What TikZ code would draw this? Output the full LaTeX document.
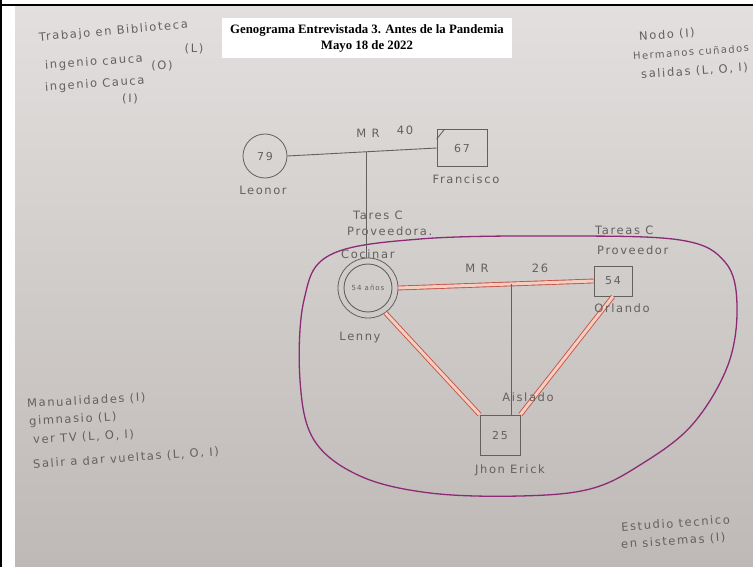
\documentclass[tikz,border=0pt]{standalone}
\usepackage{fontspec}
\setmainfont{Liberation Serif}
\newfontfamily\handfont[LetterSpace=14]{DejaVu Sans}
\usetikzlibrary{calc}
\definecolor{papertop}{RGB}{226,223,222}
\definecolor{paperbot}{RGB}{190,185,182}
\definecolor{pencil}{RGB}{100,96,96}
\definecolor{mrred}{RGB}{196,84,74}
\definecolor{mrpink}{RGB}{246,206,192}
\definecolor{ring}{RGB}{140,42,118}
\begin{document}
\begin{tikzpicture}[x=1pt,y=-1pt,
    hand/.style={text=pencil, font=\handfont\fontsize{11.5}{13}\selectfont, inner sep=1pt},
    person/.style={draw=pencil, line width=0.8pt, text=pencil, font=\handfont\fontsize{11}{12}\selectfont},
    pline/.style={draw=pencil, line width=0.9pt},
    mrband/.style={draw=mrred, line width=0.9pt, double=mrpink, double distance=3pt}]
  \useasboundingbox (0,0) rectangle (753,567);
  \fill[white] (0,0) rectangle (753,567);
  \shade[top color=papertop, bottom color=paperbot] (15,6) rectangle (753,567);
  \fill[black] (0,0) rectangle (2,567);
  \fill[black] (0,4) rectangle (753,6);
  \node[fill=white, inner sep=0pt, minimum width=290, minimum height=40, align=center,
        font=\bfseries\fontsize{12.8}{16}\selectfont] (title) at (367,38)
        {Genograma Entrevistada 3. Antes de la Pandemia\\Mayo 18 de 2022};
  % hogar actual
  \draw[ring, line width=1.3pt] plot[smooth cycle, tension=0.6] coordinates {
    (304,300) (330,255) (420,239) (560,236) (680,240) (725,262) (737,305) (728,365)
    (692,425) (640,465) (590,489) (520,496) (430,493) (360,476) (314,440) (300,380)};
  % personas
  \node[person, circle, minimum size=44] (leonor) at (265,156) {79};
  \node[person, minimum width=50, minimum height=37] (francisco) at (462,148) {67};
  \draw[pline] ($(francisco.north west)+(0,10)$) -- ++(8,-10);
  \node[person, circle, minimum size=60,
        font=\handfont\fontsize{7}{8}\selectfont] (carmen) at (368,288) {54 años};
  \draw[pline] (carmen.center) circle (24);
  \node[person, minimum width=38, minimum height=30] (orlando) at (613,281) {54};
  \node[person, minimum size=40] (jhon) at (500,435) {25};
  % uniones
  \draw[pline] (leonor.east) -- coordinate[pos=0.53] (hijos1) (francisco.west);
  \draw[pline] (hijos1) -- (hijos1 |- carmen.north);
  \draw[mrband] (carmen.east) -- coordinate[pos=0.58] (hijos2) (orlando.west);
  \draw[pline] (hijos2) -- (hijos2 |- jhon.north);
  \draw[mrband] (carmen.-55) -- (jhon.north west);
  \draw[mrband] (orlando.south) -- (jhon.north east);
  % rotulos
  \node[hand] (mr1) at (368,133) {M R};
  \node[hand] (anios1) at (405,130) {40};
  \node[hand] (nleonor) at (263,190) {Leonor};
  \node[hand] (nfrancisco) at (466,179) {Francisco};
  \node[hand, anchor=west] (tareas1) at (352,215) {Tares C};
  \node[hand, anchor=west] (prov1) at (346,231) {Proveedora.};
  \node[hand, anchor=west] (cocinar) at (340,254) {Cocinar};
  \node[hand] (nlenny) at (360,338) {Lenny};
  \node[hand] (mr2) at (477,268) {M R};
  \node[hand] (anios2) at (540,268) {26};
  \node[hand, anchor=west] (tareas2) at (594,230) {Tareas C};
  \node[hand, anchor=west] (prov2) at (596,250) {Proveedor};
  \node[hand] (norlando) at (622,308) {Orlando};
  \node[hand] (aislado) at (528,397) {Aislado};
  \node[hand] (njhon) at (510,470) {Jhon Erick};
  % actividades
  \node[hand, anchor=west, rotate=5] (trabajo) at (38,38) {Trabajo en Biblioteca};
  \node[hand] (cod1) at (194,49) {(L)};
  \node[hand, anchor=west, rotate=4] (ingenio1) at (44,66) {ingenio cauca};
  \node[hand] (cod2) at (162,66) {(O)};
  \node[hand, anchor=west, rotate=4] (ingenio2) at (44,88) {ingenio Cauca};
  \node[hand] (cod3) at (130,99) {(I)};
  \node[hand, anchor=west, rotate=4] (nodo) at (638,37) {Nodo (I)};
  \node[hand, anchor=west, rotate=4, font=\handfont\fontsize{10}{12}\selectfont] (hermanos) at (632,56) {Hermanos cuñados};
  \node[hand, anchor=west, rotate=4] (salidas) at (640,75) {salidas (L, O, I)};
  \node[hand, anchor=west, rotate=3] (manual) at (26,404) {Manualidades (I)};
  \node[hand, anchor=west, rotate=3] (gym) at (28,422) {gimnasio (L)};
  \node[hand, anchor=west, rotate=3] (tv) at (32,440) {ver TV (L, O, I)};
  \node[hand, anchor=west, rotate=4] (salir) at (32,465) {Salir a dar vueltas (L, O, I)};
  \node[hand, anchor=west, rotate=4] (estudio) at (620,527) {Estudio tecnico};
  \node[hand, anchor=west, rotate=4] (sistemas) at (620,545) {en sistemas (I)};
\end{tikzpicture}
\end{document}
